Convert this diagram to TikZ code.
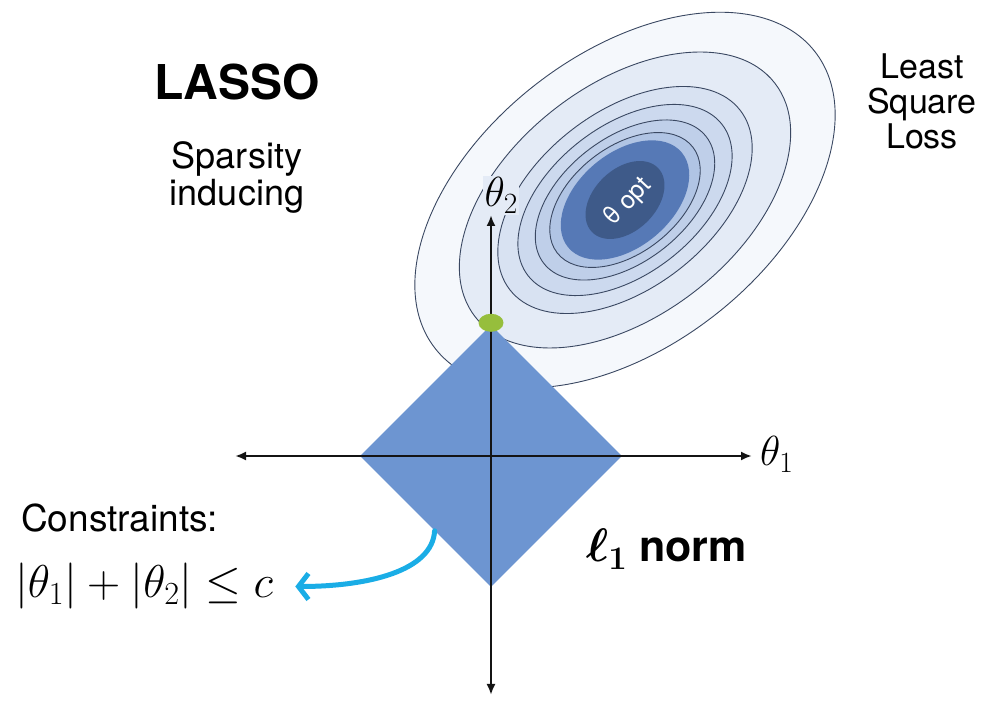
\RequirePackage{fix-cm}
\documentclass[tikz,border=0pt]{standalone}
\usepackage[no-math]{fontspec}
\setmainfont{TeX Gyre Heros}
\usepackage{amsmath,bm}
\usetikzlibrary{arrows.meta,calc,shapes.geometric}
\definecolor{ink}{HTML}{141414}
\definecolor{ringline}{HTML}{3A4862}
\definecolor{ring0}{HTML}{F5F8FC}
\definecolor{ring1}{HTML}{E4EBF6}
\definecolor{ring2}{HTML}{D8E2F2}
\definecolor{ring3}{HTML}{CCD9EE}
\definecolor{ring4}{HTML}{BFCFE9}
\definecolor{ring5}{HTML}{B0C4E4}
\definecolor{coremid}{HTML}{5679B6}
\definecolor{coredark}{HTML}{3E5A89}
\definecolor{lball}{HTML}{6D95D1}
\definecolor{touchgreen}{HTML}{96BE3C}
\definecolor{cyanarrow}{HTML}{1AADE6}
\tikzset{
  ring/.style={draw=ringline, line width=.9pt},
  axis/.style={{Latex[length=11pt,width=9pt]}-{Latex[length=11pt,width=9pt]}, draw=ink, line width=2.4pt},
  ball/.style={diamond, aspect=1, minimum size=262pt, inner sep=0pt, fill=lball},
  touch/.style={fill=touchgreen},
  pointer/.style={-{Straight Barb[length=10pt,width=26pt]}, draw=cyanarrow, line width=5pt, line cap=round},
  txt/.style={inner sep=0pt, text=black}
}

\begin{document}
\begin{tikzpicture}[x=1pt,y=1pt]
  \useasboundingbox (0,0) rectangle (990,701);
  \coordinate (opt) at (625,501);
  \coordinate (O) at (491,245);
  \coordinate (xneg) at (235,245);
  \coordinate (xpos) at (752,245);
  \coordinate (yneg) at (491,6);
  \coordinate (ypos) at (491,486);

  % level sets of the least square loss
  \begin{scope}[shift={(opt)}, rotate=38]
    \path[ring, fill=ring0] (0,0) ellipse [x radius=241, y radius=146];
    \path[ring, fill=ring1] (0,0) ellipse [x radius=190, y radius=115];
    \path[ring, fill=ring2] (0,0) ellipse [x radius=146, y radius=88];
    \path[ring, fill=ring3] (0,0) ellipse [x radius=123, y radius=74];
    \path[ring, fill=ring4] (0,0) ellipse [x radius=103, y radius=62];
    \path[ring, fill=ring5] (0,0) ellipse [x radius=86, y radius=53];
    \fill[coremid, rotate=2] (0,0) ellipse [x radius=74, y radius=47];
    \fill[coredark, rotate=6] (0,0) ellipse [x radius=46, y radius=31];
  \end{scope}

  \node[ball] (ball) at (O) {};
  \draw[axis] (xneg) -- (xpos);
  \draw[axis] (yneg) -- (ypos);
  \fill[touch] ([yshift=2pt]ball.north) ellipse [x radius=12.5, y radius=9];

  \node[txt, rotate=47, text=white, font=\fontsize{25}{27}\selectfont] (thopt) at (628,499) {θ opt};
  \node[txt, anchor=base west, font=\fontsize{42}{44}\selectfont] (thone) at (760,235) {$\theta_1$};
  \node[txt, anchor=base west, inner sep=1.5pt, fill=ring1, font=\fontsize{42}{44}\selectfont] (thtwo) at (483,494) {$\theta_2$};

  \node[txt, anchor=base, font=\bfseries\fontsize{48}{50}\selectfont] (lasso) at (237,601) {LASSO};
  \node[txt, align=center, font=\fontsize{36}{37}\selectfont] (sparse) at (237,524) {Sparsity\\inducing};
  \node[txt, align=center, font=\fontsize{34}{35}\selectfont] (lsloss) at (922,600) {Least\\Square\\Loss};
  \node[txt, anchor=base west, font=\fontsize{37}{40}\selectfont] (constr) at (21,169) {Constraints:};
  \node[txt, anchor=base west, font=\fontsize{46}{48}\selectfont] (formula) at (15,103) {$|\theta_1| + |\theta_2| \le c$};
  \node[txt, anchor=base west, font=\bfseries\fontsize{43}{45}\selectfont] (lnorm) at (586,139) {{\fontsize{47}{49}\selectfont$\bm{\ell_1}$} norm};

  \draw[pointer, shorten >=22pt] ($(ball.west)!.57!(ball.south)$) .. controls +(-2,-40) and +(95,0) .. (formula.east);
\end{tikzpicture}
\end{document}
